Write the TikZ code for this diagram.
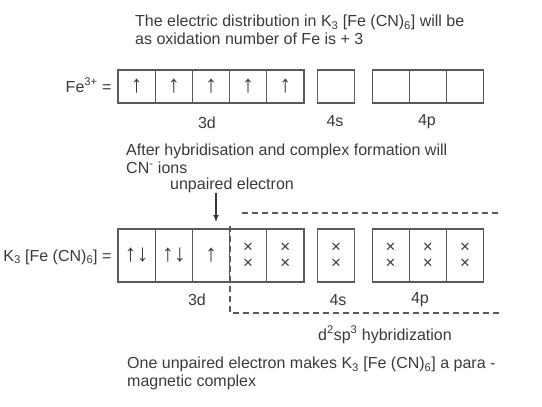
\documentclass[tikz,border=0pt]{standalone}
\usepackage{fontspec}
\setmainfont{Liberation Sans}
\usetikzlibrary{positioning,arrows.meta}
\definecolor{ink}{HTML}{3A3A3A}
\definecolor{boxline}{HTML}{5A5A5A}

\begin{document}
\begin{tikzpicture}[x=1pt, y=-1pt, node distance=0pt, >={Latex[length=7pt,width=6pt]},
    every node/.style={text=ink, font=\fontsize{16}{18}\selectfont}]
  \tikzstyle{txt}=[inner sep=0pt, align=left]
  \tikzstyle{orb}=[rectangle, draw=boxline, line width=1.1pt, inner sep=0pt, outer sep=0pt, minimum width=37.2pt, minimum height=33pt, font=\fontsize{24}{24}\selectfont]
  \tikzstyle{hyb}=[orb, minimum height=53pt, align=center]
  \tikzstyle{cross}=[font=\fontsize{17}{16}\selectfont]
  \tikzstyle{frame}=[draw=boxline, line width=1.1pt, dash pattern=on 6pt off 4pt]

  \useasboundingbox (0,0) rectangle (542,407);

  \node[txt, anchor=north west] (intro) at (135,15) {The electric distribution in K\textsubscript{3} [Fe (CN)\textsubscript{6}] will be\\as oxidation number of Fe is + 3};

  % Fe3+ configuration
  \node[anchor=base east] (fe) at (115,92) {Fe\textsuperscript{3+} =};
  \node[orb] (a1) at (136.6,86.5) {↑};
  \foreach \i [count=\j from 2] in {1,...,4}
    \node[orb, right=of a\i] (a\j) {↑};
  \node[orb] (a6) at (336,86.5) {};
  \node[orb] (a7) at (390.7,86.5) {};
  \node[orb, right=of a7] (a8) {};
  \node[orb, right=of a8] (a9) {};
  \node[anchor=base] (a3d) at (207,128) {3d};
  \node[anchor=base] (a4s) at (335,126) {4s};
  \node[anchor=base] (a4p) at (427,125) {4p};

  \node[txt, anchor=north west] (after) at (126,144) {After hybridisation and complex formation will\\CN\textsuperscript{-} ions};
  \node[txt, anchor=base west] (unp) at (170,189) {unpaired electron};

  % complex
  \node[anchor=base east] (kfe) at (115,261) {K\textsubscript{3} [Fe (CN)\textsubscript{6}] =};
  \node[hyb] (b1) at (136.6,255.5) {↑↓};
  \node[hyb, right=of b1] (b2) {↑↓};
  \node[hyb, right=of b2] (b3) {↑};
  \node[hyb, cross, right=of b3] (b4) {×\\×};
  \node[hyb, cross, right=of b4] (b5) {×\\×};
  \node[hyb, cross] (b6) at (336,255.5) {×\\×};
  \node[hyb, cross] (b7) at (390.7,255.5) {×\\×};
  \node[hyb, cross, right=of b7] (b8) {×\\×};
  \node[hyb, cross, right=of b8] (b9) {×\\×};
  \node[anchor=base] (b3d) at (197,305) {3d};
  \node[anchor=base] (b4s) at (338,305) {4s};
  \node[anchor=base] (b4p) at (420,303) {4p};

  \coordinate (tip) at (216,222);
  \draw[->, draw=ink, line width=1.2pt] (unp.south -| tip) -- (tip);

  % hybrid orbitals
  \draw[frame] (242,213) -- (500,213);
  \draw[frame] (230,226) -- (230,313) -- (500,313);
  \node[txt, anchor=base west] (hyb) at (318,340) {d\textsuperscript{2}sp\textsuperscript{3} hybridization};

  \node[txt, anchor=north west] (concl) at (127,357) {One unpaired electron makes K\textsubscript{3} [Fe (CN)\textsubscript{6}] a para -\\magnetic complex};
\end{tikzpicture}
\end{document}
